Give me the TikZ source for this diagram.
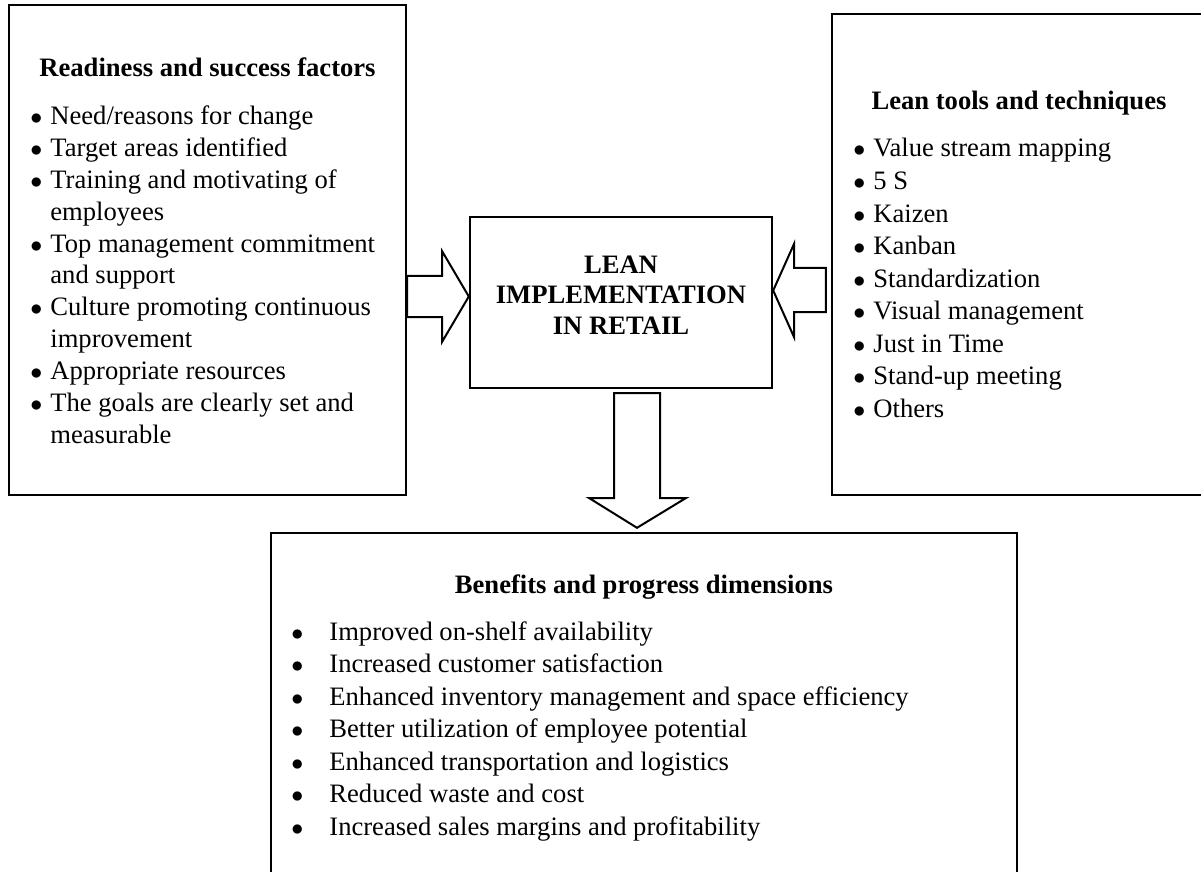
\documentclass[tikz,border=0pt]{standalone}
\usepackage{fontspec}
\setmainfont{Liberation Serif}
\usetikzlibrary{fit,calc}
\newcommand{\bul}{\llap{{\fontsize{11.5pt}{11.5pt}\selectfont$\bullet$}\hspace{4pt}}}
\newcommand{\tabbul}{\llap{{\fontsize{11.5pt}{11.5pt}\selectfont$\bullet$}\hspace{13pt}}}

\begin{document}
\begin{tikzpicture}[x=0.5pt,y=-0.5pt,
  box/.style={draw, line width=1.2pt, inner sep=0pt},
  fat/.style={draw, line width=1pt, line join=miter, fill=white},
  txt/.style={inner sep=0pt, anchor=base west, font=\fontsize{13.3pt}{16pt}\selectfont},
  head/.style={inner sep=0pt, anchor=base, font=\fontsize{13.3pt}{16pt}\selectfont\bfseries}]
\useasboundingbox[fill=white] (0,0) rectangle (1201,872);
\clip (0,0) rectangle (1201,872);

% the four boxes
\node[box, fit={(9,5) (406,495)}] (ready) {};
\node[box, fit={(832,14) (1220,495)}] (tools) {};
\node[box, fit={(470,217) (772,388)}] (lean) {};
\node[box, fit={(271,533) (1017,900)}] (benef) {};

% titles
\node[head] (ready-t) at (ready.center |- 0,77) {Readiness and success factors};
\node[head] (tools-t) at (1019,110) {Lean tools and techniques};
\node[head] (benef-t) at (benef.center |- 0,593) {Benefits and progress dimensions};
\foreach \tx [count=\i from 0] in {LEAN, IMPLEMENTATION, IN RETAIL}
  \node[head] (lean-\i) at (lean.center |- 0,273+31*\i) {\tx};

% lists
\foreach \tx [count=\i from 0] in {\bul Need/reasons for change, \bul Target areas identified,
    \bul Training and motivating of, employees, \bul Top management commitment, and support,
    \bul Culture promoting continuous, improvement, \bul Appropriate resources,
    \bul The goals are clearly set and, measurable}
  \node[txt] (ready-\i) at (50,125+31.8*\i) {\tx};
\foreach \tx [count=\i from 0] in {Value stream mapping, 5 S, Kaizen, Kanban, Standardization,
    Visual management, Just in Time, Stand-up meeting, Others}
  \node[txt] (tools-\i) at (873,157+32.5*\i) {\bul\tx};
\foreach \tx [count=\i from 0] in {Improved on-shelf availability, Increased customer satisfaction,
    Enhanced inventory management and space efficiency, Better utilization of employee potential,
    Enhanced transportation and logistics, Reduced waste and cost,
    Increased sales margins and profitability}
  \node[txt] (benef-\i) at (329,640+32.5*\i) {\tabbul\tx};

% block arrows
\draw[fat] (ready.east |- 0,276) -- (442,276) -- (442,251) -- (lean.west |- 0,296.5)
  -- (442,342) -- (442,317) -- (ready.east |- 0,317) -- cycle;
\draw[fat] ($(tools.west |- 0,268)+(-5,0)$) -- (794,268) -- (794,244) -- (lean.east |- 0,290.5)
  -- (794,337) -- (794,312) -- ($(tools.west |- 0,312)+(-5,0)$) -- cycle;
\draw[fat] ($(lean.south -| 614,0)+(0,4)$) -- (614,498) -- (589,498) -- ($(benef.north -| 637,0)+(0,-4)$)
  -- (686,498) -- (660,498) -- ($(lean.south -| 660,0)+(0,4)$) -- cycle;

\end{tikzpicture}
\end{document}
